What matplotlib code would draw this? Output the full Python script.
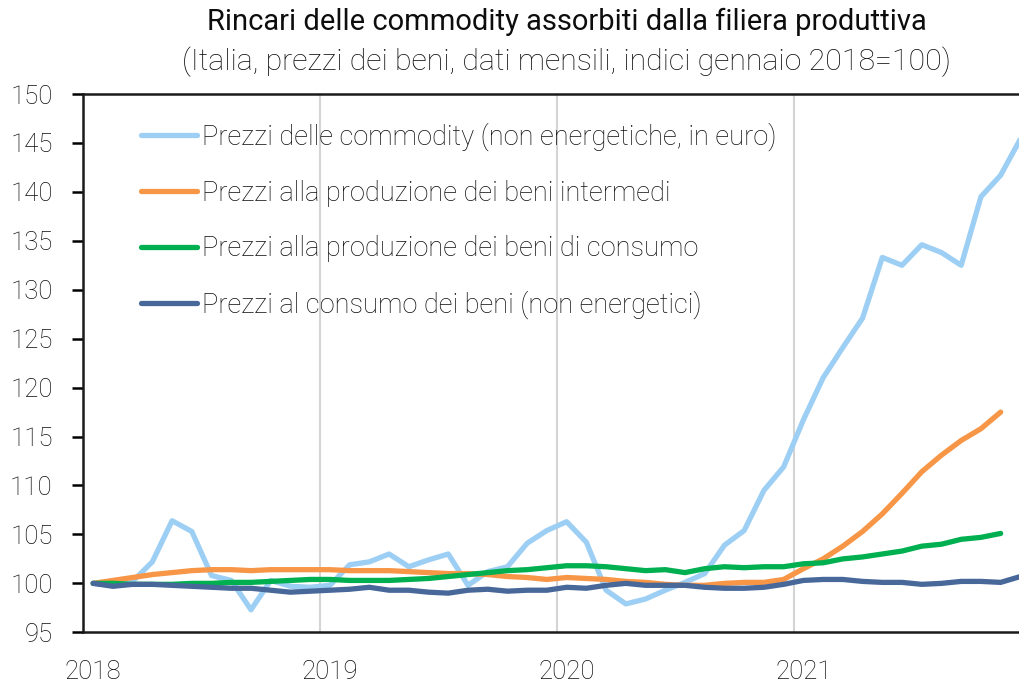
import matplotlib
matplotlib.use("Agg")
from matplotlib import pyplot as plt
import numpy as np

plt.rcParams['font.family'] = ['Roboto', 'DejaVu Sans']

# monthly data, Jan 2018 onwards (index 2018 Jan = 100)
commodity = [100.0, 99.8, 100.2, 102.2, 106.4, 105.3, 100.8, 100.3, 97.3, 100.3, 99.7, 99.6,
             99.8, 101.9, 102.2, 103.0, 101.7, 102.4, 103.0, 99.8, 101.2, 101.7, 104.1, 105.4,
             106.3, 104.2, 99.3, 97.9, 98.4, 99.3, 100.1, 101.0, 103.9, 105.4, 109.5, 111.9,
             116.7, 121.0, 124.1, 127.1, 133.3, 132.5, 134.6, 133.8, 132.5, 139.5, 141.7, 145.4]
intermedi = [100.0, 100.3, 100.6, 100.9, 101.1, 101.3, 101.4, 101.4, 101.3, 101.4, 101.4, 101.4,
             101.4, 101.3, 101.3, 101.3, 101.2, 101.1, 101.0, 101.0, 100.9, 100.7, 100.6, 100.4,
             100.6, 100.5, 100.4, 100.2, 100.1, 99.9, 99.8, 99.8, 100.0, 100.1, 100.1, 100.4,
             101.5, 102.5, 103.8, 105.3, 107.1, 109.2, 111.4, 113.1, 114.6, 115.8, 117.5]
consumo_prod = [100.0, 100.0, 99.9, 99.9, 99.9, 100.0, 100.0, 100.1, 100.1, 100.2, 100.3, 100.4,
                100.4, 100.3, 100.3, 100.3, 100.4, 100.5, 100.7, 100.9, 101.1, 101.3, 101.4, 101.6,
                101.8, 101.8, 101.7, 101.5, 101.3, 101.4, 101.1, 101.5, 101.7, 101.6, 101.7, 101.7,
                102.0, 102.1, 102.5, 102.7, 103.0, 103.3, 103.8, 104.0, 104.5, 104.7, 105.1]
consumo = [100.0, 99.7, 99.9, 99.9, 99.8, 99.7, 99.6, 99.5, 99.5, 99.3, 99.1, 99.2,
           99.3, 99.4, 99.6, 99.3, 99.3, 99.1, 99.0, 99.3, 99.4, 99.2, 99.3, 99.3,
           99.6, 99.5, 99.8, 100.0, 99.8, 99.8, 99.8, 99.6, 99.5, 99.5, 99.6, 99.9,
           100.3, 100.4, 100.4, 100.2, 100.1, 100.1, 99.9, 100.0, 100.2, 100.2, 100.1, 100.7]

labels = ['Prezzi delle commodity (non energetiche, in euro)',
          'Prezzi alla produzione dei beni intermedi',
          'Prezzi alla produzione dei beni di consumo',
          'Prezzi al consumo dei beni (non energetici)']
colors = ['#9dcff4', '#f79646', '#00b050', '#48689a']
years = ['2018', '2019', '2020', '2021']

fig = plt.figure(figsize=(10.19, 6.83), dpi=100)
ax = fig.add_axes([83.3 / 1019, 1 - 632.3 / 683, 1 - 83.3 / 1019, (632.3 - 94) / 683])

for s, lab, c in zip([commodity, intermedi, consumo_prod, consumo], labels, colors):
    x = np.arange(len(s)) + 0.5
    ax.plot(x, s, color=c, lw=3.8, label=lab, solid_capstyle='round', solid_joinstyle='round')

for yb in [12, 24, 36]:
    ax.axvline(yb, color='#d4d4d4', lw=1.5, zorder=0)

ax.set_xlim(0, 47.43)
ax.set_ylim(95, 150)
ax.set_yticks(np.arange(95, 151, 5))
ax.set_xticks([0.5, 12.5, 24.5, 36.5])
ax.set_xticklabels(years)
ax.tick_params(axis='x', length=0, pad=20, labelsize=18.5, labelcolor='#0d0d0d')
ax.tick_params(axis='y', length=8, width=1.8, pad=14, labelsize=18.5, labelcolor='#0d0d0d')
for lbl in ax.get_xticklabels() + ax.get_yticklabels():
    lbl.set_fontweight('light')

ax.spines['right'].set_visible(False)
for sp in ['left', 'bottom', 'top']:
    ax.spines[sp].set_linewidth(1.8)
    ax.spines[sp].set_color('#1a1a1a')

leg = ax.legend(loc='upper left', bbox_to_anchor=(0.0496, 0.967), frameon=False,
                fontsize=19.6, handlelength=2.07, handletextpad=0.2, labelspacing=1.05,
                borderaxespad=0)
for t in leg.get_texts():
    t.set_fontweight('light')
    t.set_color('#0d0d0d')

fig.text(567 / 1019, 1 - 22 / 683, 'Rincari delle commodity assorbiti dalla filiera produttiva',
         ha='center', va='center', fontsize=21, color='#0d0d0d')
fig.text(567 / 1019, 1 - 62 / 683, '(Italia, prezzi dei beni, dati mensili, indici gennaio 2018=100)',
         ha='center', va='center', fontsize=21.8, fontweight='light', color='#0d0d0d')

fig.savefig('out.png', dpi=100)
